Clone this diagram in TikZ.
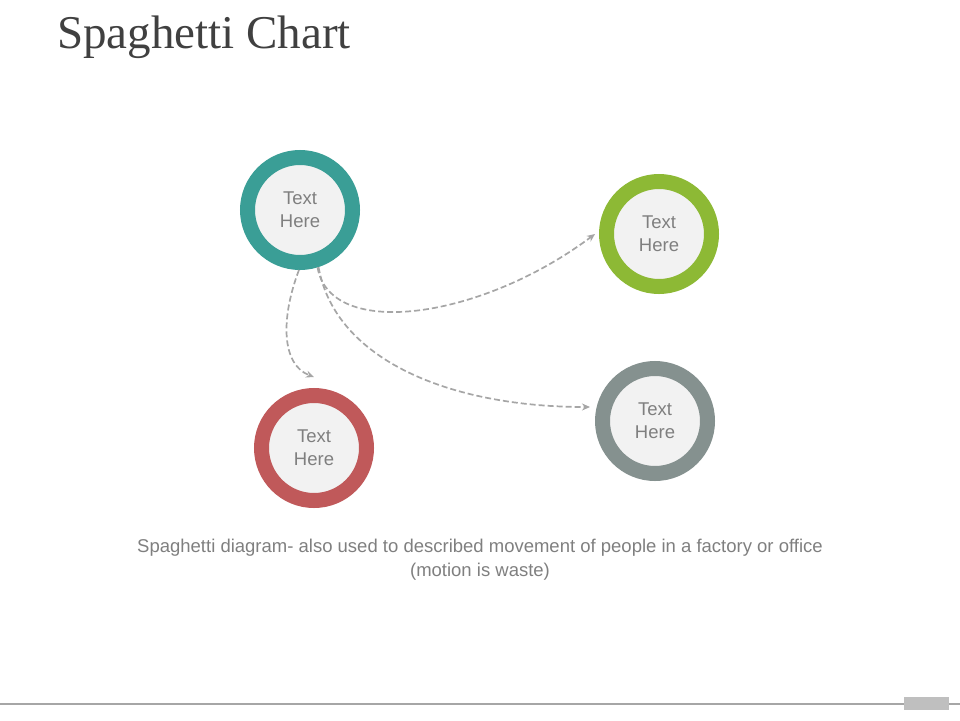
\documentclass[tikz,border=0pt]{standalone}
\usepackage{fontspec}
\setmainfont{Liberation Sans}
\newfontfamily\titlefont{Liberation Serif}
\usetikzlibrary{arrows.meta}
\definecolor{cteal}{HTML}{3A9E96}
\definecolor{cgreen}{HTML}{8DB935}
\definecolor{cred}{HTML}{C0595A}
\definecolor{cgray}{HTML}{85918F}
\definecolor{cfill}{HTML}{F2F2F2}
\definecolor{ctext}{HTML}{7F7F7F}
\definecolor{carrow}{HTML}{A6A6A6}
\definecolor{ctitle}{HTML}{404040}
\tikzset{
  ring/.style={circle, draw=#1, line width=15pt, fill=cfill, minimum size=105pt,
    inner sep=0pt, outer sep=7.5pt, text=ctext, align=center,
    font=\fontsize{18.5}{23}\selectfont},
  flow/.style={draw=carrow, line width=1.7pt, dash pattern=on 6pt off 3pt,
    -{Stealth[length=8pt,width=7pt]}},
}
\begin{document}
\begin{tikzpicture}[x=1pt,y=-1pt]
\useasboundingbox (0,0) rectangle (960,720);
\node[anchor=base west, text=ctitle, font=\titlefont\fontsize{47}{52}\selectfont, inner sep=0pt] (title) at (57,48) {Spaghetti Chart};
\node[ring=cteal] (t) at (300,210) {Text\\Here};
\node[ring=cgreen] (g) at (659,234) {Text\\Here};
\node[ring=cgray] (s) at (655,421) {Text\\Here};
\node[ring=cred] (r) at (314,448) {Text\\Here};
\coordinate (re) at ([yshift=11pt]r.north);
\coordinate (ge) at ([xshift=-4pt]g.west);
\coordinate (se) at (590,407);
\draw[flow] (t.-91) .. controls (280,320) and (282,365) .. (re);
\draw[flow] (t.-73) .. controls (330,340) and (480,320) .. (ge);
\draw[flow] (t.-72) .. controls (335,360) and (450,407) .. (se);
\node[text=ctext, align=center, font=\fontsize{18.5}{24}\selectfont] (cap) at (480,560)
  {Spaghetti diagram- also used to described movement of people in a factory or office\\(motion is waste)};
\coordinate (la) at (0,704);
\coordinate (lb) at (960,704);
\draw[carrow, line width=1.5pt] (la) -- (lb);
\node[fill=black!25, minimum width=45pt, minimum height=13pt, inner sep=0pt] (pg) at (926.5,703.5) {};
\end{tikzpicture}
\end{document}
